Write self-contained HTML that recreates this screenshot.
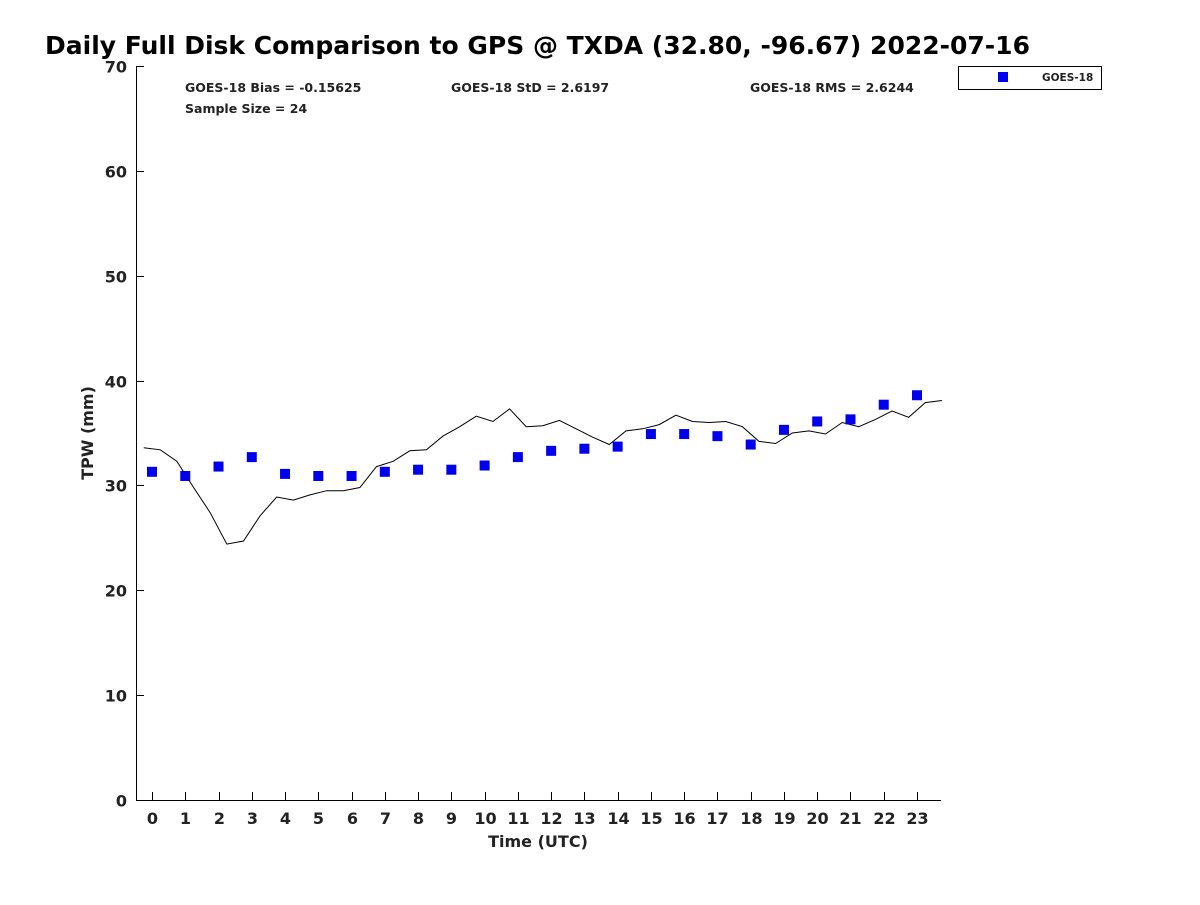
<!DOCTYPE html>
<html><head><meta charset="utf-8"><style>
body{margin:0;background:#fff;}
svg text{font-family:"DejaVu Sans","Liberation Sans",sans-serif;font-weight:bold;fill:#222;}
</style></head><body>
<svg id="chart" width="1200" height="900" xmlns="http://www.w3.org/2000/svg">
<text x="45" y="54" font-size="25" style="fill:#000">Daily Full Disk Comparison to GPS @ TXDA (32.80, -96.67) 2022-07-16</text>
<g id="axes"></g>
<g id="marks"></g>
<text x="185" y="92" font-size="12.5">GOES-18 Bias = -0.15625</text>
<text x="451" y="92" font-size="12.5">GOES-18 StD = 2.6197</text>
<text x="750" y="92" font-size="12.5">GOES-18 RMS = 2.6244</text>
<text x="185" y="113" font-size="12.5">Sample Size = 24</text>
<g>
<rect x="958.5" y="66.5" width="143" height="23" fill="#fff" stroke="#000" stroke-width="1"/>
<rect x="998" y="72" width="10" height="10" fill="#0000ee"/>
<text x="1042" y="81" font-size="10.5">GOES-18</text>
</g>
<text x="538" y="847" font-size="16" text-anchor="middle">Time (UTC)</text>
<text x="0" y="0" font-size="16" text-anchor="middle" transform="translate(93,433) rotate(-90)">TPW (mm)</text>
</svg>
<script>
const hours = [0,1,2,3,4,5,6,7,8,9,10,11,12,13,14,15,16,17,18,19,20,21,22,23];
const goesValues = [31.3,30.9,31.8,32.7,31.1,30.9,30.9,31.3,31.5,31.5,31.9,32.7,33.3,33.5,33.7,34.9,34.9,34.7,33.9,35.3,36.1,36.3,37.7,38.6];
const gpsStart = -0.25;
const gpsStep = 0.5;
const gpsValues = [33.6,33.4,32.3,29.8,27.4,24.4,24.7,27.1,28.9,28.6,29.1,29.5,29.5,29.8,31.8,32.3,33.3,33.4,34.7,35.6,36.6,36.1,37.3,35.6,35.7,36.2,35.4,34.6,33.9,35.2,35.4,35.8,36.7,36.1,36.0,36.1,35.6,34.2,34.0,35.0,35.2,34.9,36.0,35.6,36.3,37.1,36.5,37.9,38.1];
const yTicks = [0,10,20,30,40,50,60,70];
const xTickLabels = hours.map(String);

const L=136,R=941,T=66,B=800;
const xs = h => 152 + (h)*(917-152)/23;
const ys = v => B - (v/70)*(B-T);
const NS="http://www.w3.org/2000/svg";
function mk(tag, attrs, parent){const e=document.createElementNS(NS,tag);for(const k in attrs)e.setAttribute(k,attrs[k]);parent.appendChild(e);return e;}
const ax=document.getElementById('axes'), mg=document.getElementById('marks');
let p=mk('path',{d:`M${L+0.5},${T} V${B+0.5} H${R}`,fill:'none',stroke:'#000','stroke-width':1},ax);


yTicks.forEach(v=>{
  const y=Math.round(ys(v))+0.5;
  const t=mk('line',{x1:L,x2:L+8,y1:y,y2:y,stroke:'#000'},ax);
  
  
  const tx=mk('text',{x:L-9,y:y+6,'font-size':16,'text-anchor':'end'},ax);
  
  
  tx.textContent=v;
});
hours.forEach((h,i)=>{
  const x=Math.round(xs(h))+0.5;
  const t=mk('line',{x1:x,x2:x,y1:B,y2:B-8,stroke:'#000'},ax);
  
  
  const tx=mk('text',{x:x,y:824,'font-size':16,'text-anchor':'middle'},ax);
  
  
  tx.textContent=xTickLabels[i];
});
const d=gpsValues.map((v,i)=>(i?'L':'M')+xs(gpsStart+i*gpsStep).toFixed(1)+','+ys(v).toFixed(1)).join(' ');
const line=mk('path',{d:d,fill:'none',stroke:'#000','stroke-width':1},mg);


goesValues.forEach((v,i)=>{
  const r=mk('rect',{x:xs(hours[i])-5,y:ys(v)-5,width:10,height:10,fill:'#0000ee'},mg);
  
  
});
</script>
</body></html>
